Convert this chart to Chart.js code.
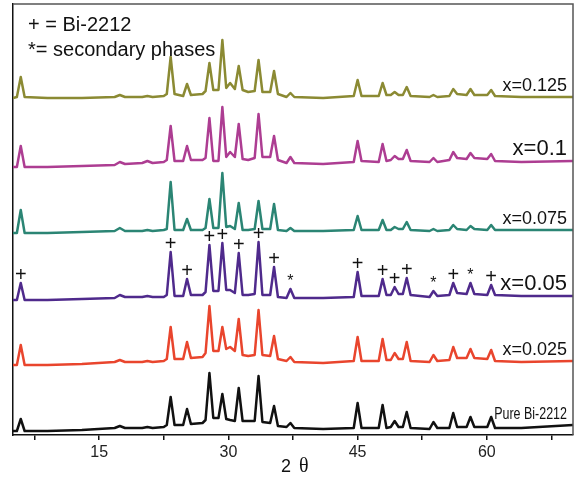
<!DOCTYPE html>
<html>
<head>
<meta charset="utf-8">
<script src="https://cdn.jsdelivr.net/npm/chart.js@4/dist/chart.umd.min.js"></script>
<style>
    body { margin: 0; background: #fff; }
    #wrap { width: 576px; height: 477px; }
</style>
</head>
<body>
<div id="wrap"><canvas id="xrdChart"></canvas></div>
<script>
// 2 theta grid (degrees), shared by all patterns
const twoTheta = [
    5.0, 5.45, 5.9, 6.35, 9, 13, 16.8, 17.4, 18.0, 20.0,
    20.6, 21.2, 22.5, 22.85, 23.3, 23.75, 24.75, 25.2, 25.65, 27.0,
    27.35, 27.8, 28.25, 28.85, 29.3, 29.75, 30.2, 30.75, 31.2, 31.65,
    32.3, 33.05, 33.5, 33.95, 34.85, 35.3, 35.75, 36.75, 37.2, 37.65,
    41, 44.55, 45.0, 45.45, 47.45, 47.9, 48.35, 48.85, 49.3, 49.75,
    50.25, 50.7, 51.15, 53.35, 53.8, 54.25, 55.65, 56.1, 56.55, 57.65,
    58.1, 58.55, 60.05, 60.5, 60.95, 64, 70,
];

// intensities (a.u., stacked with offsets as drawn)
const x0125 = [
    337, 338, 358, 338, 337, 337, 338, 340, 338, 338,
    339, 338, 339, 341, 378, 341, 339, 351, 340, 341,
    344, 372, 345, 345, 395, 347, 352, 346, 369, 345,
    343, 344, 375, 343, 343, 364, 341, 338, 342, 338,
    337, 339, 355, 339, 339, 352, 340, 340, 343, 340,
    340, 348, 339, 338, 340, 338, 339, 346, 341, 340,
    346, 340, 340, 345, 339, 338, 338,
];
const x010 = [
    268, 268, 289, 268, 268, 269, 270, 273, 271, 272,
    274, 272, 273, 275, 309, 274, 274, 289, 275, 275,
    277, 317, 274, 274, 328, 278, 283, 278, 311, 276,
    275, 277, 321, 278, 278, 299, 275, 272, 278, 272,
    271, 273, 294, 274, 273, 291, 274, 275, 279, 276,
    276, 285, 274, 273, 277, 273, 275, 283, 277, 276,
    282, 277, 276, 281, 274, 273, 274,
];
const x0075 = [
    202, 202, 225, 202, 202, 203, 204, 207, 204, 204,
    205, 204, 205, 206, 253, 205, 205, 216, 205, 205,
    207, 236, 207, 207, 262, 208, 209, 206, 232, 205,
    205, 206, 234, 206, 206, 231, 205, 204, 207, 204,
    204, 205, 219, 205, 205, 215, 205, 205, 208, 206,
    206, 213, 205, 204, 206, 204, 205, 210, 206, 205,
    209, 206, 205, 210, 205, 205, 205,
];
const x005 = [
    135, 135, 152, 135, 135, 136, 137, 140, 138, 138,
    139, 138, 138, 140, 183, 139, 139, 156, 140, 140,
    143, 190, 144, 144, 192, 145, 145, 142, 182, 140,
    140, 141, 193, 140, 140, 168, 138, 137, 146, 137,
    137, 138, 163, 139, 139, 156, 140, 140, 148, 141,
    141, 157, 140, 138, 144, 139, 140, 152, 142, 141,
    152, 141, 140, 150, 140, 139, 139,
];
const x0025 = [
    70, 70, 90, 70, 70, 71, 73, 75, 73, 73,
    74, 73, 74, 76, 108, 76, 76, 93, 77, 78,
    82, 129, 84, 84, 108, 86, 88, 84, 116, 80,
    79, 80, 125, 80, 79, 99, 76, 74, 78, 73,
    72, 74, 98, 74, 74, 96, 75, 75, 82, 76,
    76, 93, 74, 73, 80, 74, 75, 88, 77, 77,
    86, 77, 76, 85, 74, 73, 74,
];
const pure = [
    4, 4, 16, 4, 4, 5, 7, 9, 7, 7,
    8, 7, 8, 10, 38, 10, 10, 26, 11, 12,
    15, 62, 17, 17, 41, 16, 15, 14, 47, 14,
    14, 14, 59, 13, 12, 29, 9, 8, 12, 7,
    6, 7, 32, 7, 7, 30, 7, 8, 14, 8,
    8, 23, 7, 6, 13, 7, 7, 22, 8, 8,
    18, 8, 8, 18, 7, 7, 10,
];

const seriesNames = ["x=0.125", "x=0.1", "x=0.075", "x=0.05", "x=0.025", "Pure Bi-2212"];
const seriesValues = [x0125, x010, x0075, x005, x0025, pure];
const seriesColors = ["#8b8a33", "#ad3d92", "#2b8574", "#4f2a8c", "#e9452d", "#111111"];
const labelFonts = ["18px Arial", "22px Arial", "18px Arial", "22px Arial", "18px Arial", "16px Arial"];

// phase marks on the x=0.05 pattern
const markAngles = [5.9, 23.3, 25.2, 27.8, 29.3, 31.2, 33.5, 35.3, 37.2, 45.0, 47.9, 49.3, 50.7, 53.8, 56.1, 58.1, 60.5];
const markSymbols = ["+", "+", "+", "+", "+", "+", "+", "+", "*", "+", "+", "+", "+", "*", "+", "*", "+"];

const tickValues = [7.5, 15, 22.5, 30, 37.5, 45, 52.5, 60, 67.5];

// Overlay: frame, legend text, series labels, phase marks, axis title
const overlay = {
    id: "overlay",
    afterDatasetsDraw(chart) {
        const ctx = chart.ctx;
        const a = chart.chartArea;
        const xs = chart.scales.x;
        const ys = chart.scales.y;
        ctx.save();

        // frame
        ctx.strokeStyle = "#555";
        ctx.lineWidth = 1.5;
        ctx.beginPath();
        ctx.moveTo(a.left, a.top);
        ctx.lineTo(a.right, a.top);
        ctx.lineTo(a.right, a.bottom);
        ctx.stroke();

        // legend text
        ctx.fillStyle = "#111";
        ctx.font = "20px Arial";
        ctx.textAlign = "left";
        ctx.textBaseline = "alphabetic";
        ctx.fillText("+ = Bi-2212", a.left + 15, a.top + 27);
        ctx.fillText("*= secondary phases", a.left + 15, a.top + 52);

        // series labels
        ctx.textAlign = "right";
        seriesNames.forEach((name, i) => {
            const vals = seriesValues[i];
            const y = ys.getPixelForValue(vals[vals.length - 1]) - 6;
            ctx.font = labelFonts[i];
            if (i === seriesNames.length - 1) {
                ctx.save();
                ctx.translate(a.right - 6, y);
                ctx.scale(0.78, 1.05);
                ctx.fillText(name, 0, 0);
                ctx.restore();
            } else {
                ctx.fillText(name, a.right - 6, y);
            }
        });

        // phase marks
        ctx.textAlign = "center";
        ctx.textBaseline = "middle";
        markAngles.forEach((ang, i) => {
            const idx = twoTheta.indexOf(ang);
            const px = xs.getPixelForValue(ang);
            const py = ys.getPixelForValue(x005[idx]) - 8;
            ctx.font = markSymbols[i] === "*" ? "16px Arial" : "20px Arial";
            ctx.fillText(markSymbols[i], px, markSymbols[i] === "*" ? py + 1 : py);
        });

        // axis title
        const cx = (a.left + a.right) / 2;
        ctx.textBaseline = "alphabetic";
        ctx.textAlign = "right";
        ctx.font = "18px Arial";
        ctx.fillText("2", cx - 2, a.bottom + 37);
        ctx.textAlign = "left";
        ctx.font = "20px 'Liberation Serif', serif";
        ctx.fillText("θ", cx + 6, a.bottom + 37);

        ctx.restore();
    },
};

const ctx = document.getElementById("xrdChart").getContext("2d");
const xrdChart = new Chart(ctx, {
    type: "line",
    data: {
        datasets: seriesValues.map((vals, i) => ({
            label: seriesNames[i],
            data: twoTheta.map((t, j) => ({ x: t, y: vals[j] })),
            borderColor: seriesColors[i],
            borderWidth: 2.5,
            borderJoinStyle: "round",
            pointRadius: 0,
            tension: 0,
            fill: false,
        })),
    },
    options: {
        responsive: true,
        maintainAspectRatio: false,
        animation: false,
        layout: {
            padding: { top: 4, right: 3, left: 0, bottom: 0 },
        },
        plugins: {
            legend: { display: false },
            tooltip: { enabled: false },
        },
        scales: {
            x: {
                type: "linear",
                min: 5,
                max: 70,
                afterBuildTicks: (scale) => {
                    scale.ticks = tickValues.map((v) => ({ value: v }));
                },
                afterFit: (scale) => {
                    scale.height = 42;
                },
                ticks: {
                    autoSkip: false,
                    maxRotation: 0,
                    padding: 3,
                    color: "#222",
                    font: { family: "Arial", size: 16 },
                    callback: (v) => (v % 15 === 0 ? v : ""),
                },
                grid: {
                    drawOnChartArea: false,
                    drawTicks: true,
                    tickLength: 5,
                    color: "#111",
                    lineWidth: 1.5,
                },
                border: { display: true, color: "#111", width: 1.5 },
            },
            y: {
                min: 0,
                max: 431,
                afterFit: (scale) => {
                    scale.width = 13;
                },
                ticks: { display: false },
                grid: { display: false },
                border: { display: true, color: "#111", width: 1.5 },
            },
        },
    },
    plugins: [overlay],
});
</script>
</body>
</html>
